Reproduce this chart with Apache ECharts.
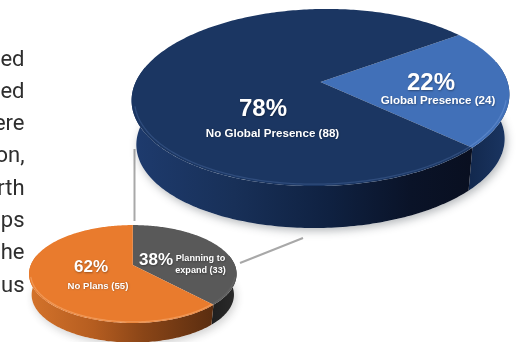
<!DOCTYPE html>
<html>
<head>
<meta charset="utf-8">
<style>html,body{margin:0;padding:0;background:#fff}#chart{width:518px;height:342px}</style>
<script src="https://cdn.jsdelivr.net/npm/echarts@6/dist/echarts.min.js"></script>
</head>
<body>
<div id="chart"></div>
<script>
// Share of companies with a global presence (upper disc)
const presenceNames = ['Global Presence', 'No Global Presence'];
const presenceShares = [22, 78];
const presenceCounts = [24, 88];

// Expansion plans among companies without one (lower disc)
const planNames = ['Planning to\nexpand', 'No Plans'];
const planShares = [38, 62];
const planCounts = [33, 55];

// Line endings of the adjoining body paragraph
const bodyEndings = ['ed', 'ed', 'ere', 'on,', 'rth', 'ps', 'he', 'us'];

// Disc geometry: cx/cy is the wedge apex, k the perspective strength,
// tilt a slight camera roll, inner the shrink of the lower rim.
const presenceDisc = {
  cx: 320.5, cy: 82, rx: 186, ry: 85.8, k: 0.175, tilt: -0.016, depth: 44.6, inner: 0.975, start: -35,
  top: ['#4170b8', '#1b3662'],
  rim: ['rgba(140,175,235,0.30)', 'rgba(120,155,220,0.22)'],
  side: [
    [[0, '#12284d'], [1, '#1b3663']],
    [[0, '#1e3b6e'], [0.3, '#183058'], [0.58, '#0f2141'], [0.82, '#0a1328'], [1, '#090f20']]
  ],
  shadow: 'rgba(40,50,60,0.34)',
  labels: [
    { pct: [431, 83.5, 24], name: [438, 101, 11.6, 14] },
    { pct: [263, 109.5, 24], name: [272.5, 133.5, 11.6, 14] }
  ]
};
const planDisc = {
  cx: 132.8, cy: 265, rx: 102, ry: 47.3, k: 0.184, tilt: 0, depth: 21, inner: 0.975, start: -90,
  top: ['#595959', '#e97b2d'],
  rim: ['rgba(255,255,255,0.06)', 'rgba(255,210,170,0.32)'],
  side: [
    [[0, '#1f1f1f'], [1, '#2b2b2b']],
    [[0, '#d4732b'], [0.35, '#b55d20'], [0.62, '#8a4517'], [1, '#5a2d10']]
  ],
  shadow: 'rgba(40,40,40,0.22)',
  labels: [
    { pct: [156, 260.5, 17], name: [200.5, 264.5, 9.1, 12] },
    { pct: [91, 267.5, 17], name: [98, 286, 9.6, 12] }
  ]
};

// Projects an angle on the disc (degrees, clockwise from 3 o'clock) to the page.
function project(d, deg, radius, lower) {
  const t = deg * Math.PI / 180;
  const u = radius * Math.cos(t), v = radius * Math.sin(t);
  const w = 1 - d.k * v;
  let x = d.rx * u / w, y = d.ry * v / w + d.tilt * (d.rx * u / w);
  if (lower) { x *= d.inner; y = y * d.inner + d.depth; }
  return [d.cx + x, d.cy + y];
}

function arcPoints(d, from, to, radius, lower) {
  const pts = [];
  const steps = Math.max(2, Math.ceil(Math.abs(to - from)));
  for (let i = 0; i <= steps; i++) pts.push(project(d, from + (to - from) * i / steps, radius, lower));
  return pts;
}

// Builds the custom-series renderer that draws one disc from its shares.
function discRenderer(d, shares, counts, names) {
  const total = shares.reduce((a, b) => a + b, 0);
  return function (params, api) {
    const i = params.dataIndex;
    const before = shares.slice(0, i).reduce((a, b) => a + b, 0);
    const a0 = d.start + 360 * before / total;
    const a1 = a0 + 360 * api.value(0) / total;
    const children = [];

    // Soft contact shadow behind the whole disc, emitted once
    if (i === 0) {
      children.push({
        type: 'polygon',
        shape: { points: arcPoints(d, 0, 360, 1, true) },
        style: { fill: '#fff', shadowColor: d.shadow, shadowBlur: 9, shadowOffsetY: 3, shadowOffsetX: 2 },
        z2: 0
      });
    }

    // Wall of the slice, only over the near part of the rim
    const s0 = Math.max(a0, -12), s1 = Math.min(a1, 192);
    if (s1 > s0) {
      children.push({
        type: 'polygon',
        shape: { points: arcPoints(d, s0, s1, 1, false).concat(arcPoints(d, s1, s0, 1, true)) },
        style: { fill: new echarts.graphic.LinearGradient(0, 0, 1, 0, d.side[i].map(c => ({ offset: c[0], color: c[1] }))) },
        z2: 1
      });
    }

    // Top face
    children.push({
      type: 'polygon',
      shape: { points: [project(d, 0, 0, false)].concat(arcPoints(d, a0, a1, 1, false)) },
      style: { fill: d.top[i] },
      z2: 2
    });

    // Bevel highlight along the front of the rim
    const h0 = Math.max(a0, 14), h1 = Math.min(a1, 166);
    if (h1 > h0) {
      children.push({
        type: 'polyline',
        shape: { points: arcPoints(d, h0, h1, 0.985, false) },
        style: { stroke: d.rim[i], lineWidth: 1.3, fill: null },
        z2: 3
      });
    }

    // Percentage and category text
    const lab = d.labels[i];
    const shadow = { textShadowColor: 'rgba(0,0,0,0.35)', textShadowBlur: 2, textShadowOffsetX: 0.5, textShadowOffsetY: 0.5 };
    children.push({
      type: 'text',
      style: Object.assign({
        text: api.value(0) + '%', x: lab.pct[0], y: lab.pct[1], align: 'center', verticalAlign: 'middle',
        fill: '#fff', font: 'bold ' + lab.pct[2] + 'px "Liberation Sans", Arial, sans-serif'
      }, shadow),
      z2: 5
    });
    children.push({
      type: 'text',
      style: Object.assign({
        text: names[i] + ' (' + counts[i] + ')', x: lab.name[0], y: lab.name[1], align: 'center', verticalAlign: 'middle',
        lineHeight: lab.name[3], fill: '#fff', font: 'bold ' + lab.name[2] + 'px "Liberation Sans", Arial, sans-serif'
      }, shadow),
      z2: 5
    });
    return { type: 'group', children };
  };
}

const chart = echarts.init(document.getElementById('chart'), null, { renderer: 'canvas' });

chart.setOption({
  animation: false,
  backgroundColor: '#fff',
  // Leader lines tying the two discs together, and the clipped paragraph beside them
  graphic: [
    { type: 'line', z: 0, shape: { x1: 134.5, y1: 149, x2: 134.5, y2: 221 }, style: { stroke: '#a8a8a8', lineWidth: 2 } },
    { type: 'line', z: 0, shape: { x1: 240, y1: 263, x2: 303, y2: 238 }, style: { stroke: '#a8a8a8', lineWidth: 2 } }
  ].concat(bodyEndings.map((t, i) => ({
    type: 'text',
    z: 0,
    style: {
      text: t, x: 24.5, y: 60 + i * 32.3, align: 'right', verticalAlign: 'middle',
      fill: '#2e2e2e', font: '22px Roboto, sans-serif'
    }
  }))),
  series: [
    {
      type: 'custom', coordinateSystem: 'none', silent: true, clip: false, z: 2,
      data: presenceShares.map((s, i) => [s, presenceCounts[i]]),
      renderItem: discRenderer(presenceDisc, presenceShares, presenceCounts, presenceNames)
    },
    {
      type: 'custom', coordinateSystem: 'none', silent: true, clip: false, z: 3,
      data: planShares.map((s, i) => [s, planCounts[i]]),
      renderItem: discRenderer(planDisc, planShares, planCounts, planNames)
    }
  ]
});
</script>
</body>
</html>
